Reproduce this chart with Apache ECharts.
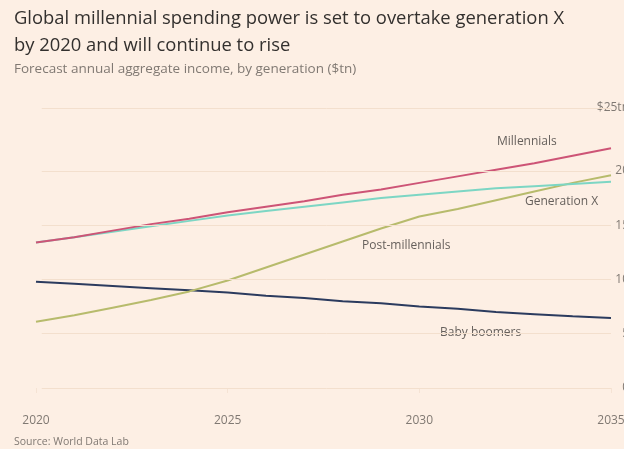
<!DOCTYPE html>
<html><head><meta charset="utf-8">
<script src="https://cdn.jsdelivr.net/npm/echarts@6/dist/echarts.min.js"></script>
<style>html,body{margin:0;padding:0;background:#fdefe4;}#c{width:624px;height:449px;}</style>
</head><body><div id="c"></div>
<script>
const years = [2020,2021,2022,2023,2024,2025,2026,2027,2028,2029,2030,2031,2032,2033,2034,2035];
const millennials = [13.4,13.9,14.5,15.1,15.6,16.2,16.7,17.2,17.8,18.3,18.9,19.5,20.1,20.7,21.4,22.1];
const generationX = [13.4,13.9,14.4,14.9,15.4,15.9,16.3,16.7,17.1,17.5,17.8,18.1,18.4,18.6,18.8,19.0];
const postMillennials = [6.1,6.7,7.4,8.1,8.9,9.9,11.1,12.3,13.5,14.7,15.8,16.5,17.3,18.1,18.9,19.6];
const babyBoomers = [9.8,9.6,9.4,9.2,9.0,8.8,8.5,8.3,8.0,7.8,7.5,7.3,7.0,6.8,6.6,6.45];
const gridValues = [0,5,10,15,20,25.8];
const yTickLabels = {0:'0',5:'5',10:'10',15:'15',20:'20',25.8:'$25tn'};

const pair = arr => years.map((y,i)=>[y,arr[i]]);
const chart = echarts.init(document.getElementById('c'));
const txt = '#66605c';
function lbl(text,x,y){return {type:'text',left:x,top:y,style:{text:text,fill:txt,font:'12px "Open Sans"'}};}
chart.setOption({
  backgroundColor:'#fdefe4',
  animation:false,
  grid:{left:36,right:13,top:108,bottom:61,containLabel:false,outerBoundsMode:'none'},
  xAxis:{type:'value',min:2020,max:2035,interval:5,
    axisLine:{show:false},axisTick:{show:true,length:5,lineStyle:{color:'#f5e3d4'}},
    splitLine:{show:false},
    axisLabel:{color:'#807973',fontSize:12,fontFamily:'"Open Sans"',margin:27,formatter:v=>String(v)}},
  yAxis:{type:'value',position:'right',min:0,max:25.8,interval:5,
    axisLine:{show:false},axisTick:{show:false},
    splitLine:{show:false},
    axisLabel:{color:'#807973',fontSize:12,fontFamily:'"Open Sans"',align:'right',margin:18,showMaxLabel:true,
      formatter:v=>(yTickLabels[v]!==undefined?yTickLabels[v]:'')}},
  series:[
    {name:'Baby boomers',type:'line',data:pair(babyBoomers),showSymbol:false,lineStyle:{color:'#2b3b5e',width:2},
      markLine:{silent:true,symbol:['none','none'],label:{show:false},animation:false,
        lineStyle:{color:'#f3dfcd',type:'solid',width:1},
        data:gridValues.map(v=>[{coord:[2020.15,v]},{coord:[2035,v]}])}},
    {name:'Post-millennials',type:'line',data:pair(postMillennials),showSymbol:false,lineStyle:{color:'#b7bb6c',width:2}},
    {name:'Generation X',type:'line',data:pair(generationX),showSymbol:false,lineStyle:{color:'#7dd6c4',width:2}},
    {name:'Millennials',type:'line',data:pair(millennials),showSymbol:false,lineStyle:{color:'#cd5476',width:2}}
  ],
  graphic:[
    {type:'text',left:14,top:5,style:{text:'Global millennial spending power is set to overtake generation X\nby 2020 and will continue to rise',fill:'#33302e',font:'18.4px "Open Sans"',lineHeight:27}},
    {type:'text',left:14,top:62,style:{text:'Forecast annual aggregate income, by generation ($tn)',fill:'#807973',font:'13.5px "Open Sans"'}},
    {type:'text',left:14,top:437,style:{text:'Source: World Data Lab',fill:'#807973',font:'10.5px "Open Sans"'}},
    lbl('Millennials',497,136),
    lbl('Generation X',525,196),
    lbl('Post-millennials',362,240),
    lbl('Baby boomers',440,327)
  ]
});
</script></body></html>
